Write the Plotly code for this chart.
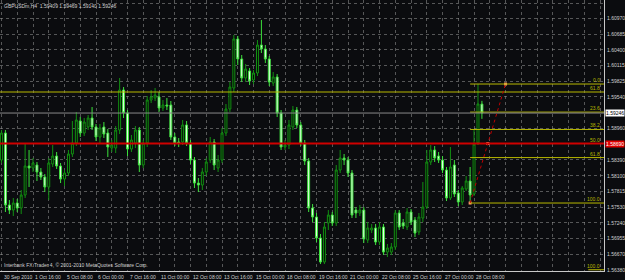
import plotly.graph_objects as go

# ---- data (GBPUSDm, H4) ----
opens = [1.58388, 1.58881, 1.57567, 1.57475, 1.57603, 1.57512, 1.57749, 1.58279, 1.58242, 1.58297,
         1.58169, 1.58078, 1.57895, 1.58315, 1.58461, 1.58279, 1.58041, 1.58151, 1.58498, 1.58699,
         1.59101, 1.58881, 1.58991, 1.59155, 1.58991, 1.58808, 1.58991, 1.58881, 1.58608, 1.58608,
         1.58936, 1.59667, 1.59247, 1.58589, 1.58699, 1.58936, 1.58297, 1.58699, 1.59484, 1.59521,
         1.59539, 1.59338, 1.59393, 1.59393, 1.58808, 1.58717, 1.58717, 1.59028, 1.58699, 1.58388,
         1.57968, 1.57932, 1.58169, 1.58388, 1.58717, 1.58242, 1.58388, 1.58881, 1.59320, 1.59703,
         1.60598, 1.60233, 1.59886, 1.60014, 1.59849, 1.59977, 1.60488, 1.60415, 1.60233, 1.59794,
         1.59904, 1.59247, 1.58626, 1.58662, 1.58991, 1.59301, 1.59028, 1.58699, 1.58370, 1.57512,
         1.57348, 1.56964, 1.56526, 1.57238, 1.57384, 1.57238, 1.58206, 1.58425, 1.58388, 1.58151,
         1.57475, 1.57421, 1.57475, 1.56928, 1.57110, 1.57147, 1.56891, 1.57165, 1.56708, 1.56708,
         1.56800, 1.57421, 1.57238, 1.57165, 1.57439, 1.57293, 1.57074, 1.57329, 1.57530, 1.58352,
         1.58571, 1.58461, 1.58388, 1.58206, 1.57695, 1.58297, 1.57786, 1.57622, 1.57859, 1.58005,
         1.57768, 1.58699, 1.59409]
highs = [1.58936, 1.58936, 1.57658, 1.57695, 1.57676, 1.57841, 1.58699, 1.58571, 1.58425, 1.58352,
         1.58242, 1.58133, 1.58425, 1.58662, 1.58535, 1.58334, 1.58206, 1.58571, 1.59101, 1.59265,
         1.59174, 1.59155, 1.59210, 1.59356, 1.59046, 1.59046, 1.59082, 1.58955, 1.58754, 1.59009,
         1.59886, 1.59721, 1.59301, 1.58845, 1.59009, 1.58991, 1.58754, 1.59557, 1.59667, 1.59703,
         1.59630, 1.59484, 1.59521, 1.59466, 1.58881, 1.58790, 1.59119, 1.59101, 1.58754, 1.58443,
         1.58060, 1.58242, 1.58425, 1.58808, 1.58772, 1.58480, 1.58973, 1.59411, 1.59813, 1.60671,
         1.60653, 1.60306, 1.60141, 1.60068, 1.60032, 1.60580, 1.60945, 1.60488, 1.60287, 1.59995,
         1.59959, 1.59301, 1.58754, 1.59119, 1.59374, 1.59356, 1.59082, 1.58754, 1.58425, 1.57585,
         1.57421, 1.57037, 1.57256, 1.57475, 1.57439, 1.58297, 1.58571, 1.58498, 1.58443, 1.58206,
         1.57530, 1.57567, 1.57530, 1.57256, 1.57220, 1.57220, 1.57256, 1.57220, 1.56855, 1.56873,
         1.57475, 1.57475, 1.57311, 1.57512, 1.57494, 1.57348, 1.57421, 1.57987, 1.58571, 1.58662,
         1.58644, 1.58535, 1.58461, 1.58261, 1.58626, 1.58388, 1.57841, 1.57914, 1.58096, 1.58261,
         1.58936, 1.59776, 1.59469]
lows = [1.58334, 1.57439, 1.57402, 1.57366, 1.57439, 1.57402, 1.57695, 1.57895, 1.58169, 1.58005,
        1.58023, 1.57804, 1.57658, 1.58261, 1.58224, 1.57968, 1.57914, 1.58096, 1.58443, 1.58644,
        1.58808, 1.58827, 1.58936, 1.58936, 1.58735, 1.58699, 1.58790, 1.58443, 1.58535, 1.58516,
        1.58863, 1.59155, 1.58461, 1.58535, 1.58608, 1.58169, 1.58242, 1.58626, 1.59429, 1.59466,
        1.59265, 1.59283, 1.59301, 1.58754, 1.58644, 1.58626, 1.58662, 1.58644, 1.58315, 1.57877,
        1.57804, 1.57841, 1.58096, 1.58334, 1.58206, 1.58169, 1.58334, 1.58827, 1.59265, 1.59630,
        1.60123, 1.59813, 1.59813, 1.59758, 1.59776, 1.59922, 1.60342, 1.60160, 1.59740, 1.59740,
        1.59174, 1.58571, 1.58571, 1.58589, 1.58936, 1.58973, 1.58644, 1.58297, 1.57439, 1.57256,
        1.56891, 1.56489, 1.56489, 1.57110, 1.57183, 1.57183, 1.58151, 1.58297, 1.58078, 1.57329,
        1.57329, 1.57366, 1.56873, 1.56873, 1.57055, 1.56836, 1.56836, 1.56654, 1.56617, 1.56654,
        1.56745, 1.57110, 1.57129, 1.57110, 1.57202, 1.56982, 1.57019, 1.57256, 1.57494, 1.58297,
        1.58352, 1.58334, 1.58151, 1.57640, 1.57658, 1.57713, 1.57548, 1.57567, 1.57822, 1.57603,
        1.57731, 1.58662, 1.59140]
closes = [1.58881, 1.57567, 1.57475, 1.57603, 1.57512, 1.57749, 1.58279, 1.58242, 1.58334, 1.58169,
          1.58078, 1.57895, 1.58334, 1.58461, 1.58279, 1.58041, 1.58151, 1.58498, 1.58699, 1.59119,
          1.58881, 1.59082, 1.59155, 1.58991, 1.58808, 1.58973, 1.58863, 1.58626, 1.58662, 1.58936,
          1.59667, 1.59247, 1.58589, 1.58754, 1.58936, 1.58297, 1.58699, 1.59484, 1.59539, 1.59575,
          1.59338, 1.59393, 1.59374, 1.58808, 1.58699, 1.58699, 1.59028, 1.58699, 1.58388, 1.57968,
          1.57932, 1.58169, 1.58352, 1.58717, 1.58297, 1.58388, 1.58881, 1.59320, 1.59721, 1.60598,
          1.60233, 1.59886, 1.60050, 1.59831, 1.59977, 1.60488, 1.60415, 1.60233, 1.59813, 1.59904,
          1.59247, 1.58626, 1.58662, 1.59028, 1.59301, 1.59028, 1.58699, 1.58370, 1.57512, 1.57348,
          1.56964, 1.56526, 1.57165, 1.57384, 1.57238, 1.58206, 1.58425, 1.58388, 1.58151, 1.57384,
          1.57421, 1.57475, 1.56946, 1.57147, 1.57147, 1.56891, 1.57165, 1.56708, 1.56782, 1.56800,
          1.57421, 1.57165, 1.57183, 1.57439, 1.57256, 1.57055, 1.57348, 1.57530, 1.58352, 1.58571,
          1.58425, 1.58388, 1.58206, 1.57695, 1.58261, 1.57768, 1.57622, 1.57877, 1.58005, 1.57749,
          1.58681, 1.59411, 1.59246]
bars = list(range(len(opens)))

time_labels = ["30 Sep 2010", "1 Oct 16:00", "5 Oct 08:00", "6 Oct 00:00", "7 Oct 16:00",
               "11 Oct 00:00", "12 Oct 08:00", "13 Oct 16:00", "15 Oct 00:00", "18 Oct 08:00",
               "19 Oct 16:00", "21 Oct 00:00", "22 Oct 08:00", "25 Oct 16:00", "27 Oct 00:00",
               "28 Oct 08:00"]
label_step = 8
grid_step = 4

price_ticks = [1.61255, 1.60970, 1.60685, 1.60400, 1.60115, 1.59825, 1.59540, 1.58960,
               1.58390, 1.58100, 1.57815, 1.57530, 1.57240, 1.56955, 1.56670, 1.56380]

title_text = "GBPUSDm,H4  1.59409 1.59469 1.59140 1.59246"
copyright_text = "Interbank FX Trader 4, \u00a9 2001-2010 MetaQuotes Software Corp."

bid_price = 1.59246
red_level = 1.58690
yellow_level = 1.59630
yellow_level_label = "61.8"
fib_high = 1.59776
fib_low = 1.57603
fib_start_bar = 119
trend_end_bar = 128
fib_levels = [0.0, 23.6, 38.2, 50.0, 61.8, 100.0]
bottom_level = 1.56385
bottom_level_label = "100.0"

# ---- styling ----
BG = "#0b0c0f"
GRID = "rgba(150,150,150,0.55)"
TXT = "#d0d0d0"
FIB = "#b8b800"
FONT = "Liberation Sans"
FS = 5

X_MIN, X_MAX = -0.38, 153.0
Y_MIN, Y_MAX = 1.56362, 1.61310

fig = go.Figure()

fig.add_trace(go.Candlestick(
    x=bars, open=opens, high=highs, low=lows, close=closes,
    increasing=dict(line=dict(color="#129012", width=1), fillcolor="#050805"),
    decreasing=dict(line=dict(color="#3be03b", width=1), fillcolor="#f2fff2"),
    whiskerwidth=0, hoverinfo="skip", showlegend=False,
))

# fib range levels
fib_prices = [fib_high - (fib_high - fib_low) * lv / 100.0 for lv in fib_levels]
shapes = []
for pr in fib_prices:
    shapes.append(dict(type="line", xref="x", yref="y", x0=fib_start_bar, x1=X_MAX,
                       y0=pr, y1=pr, line=dict(color=FIB, width=1), layer="above"))
# full-width lines
shapes.append(dict(type="line", xref="paper", yref="y", x0=0, x1=1, y0=yellow_level, y1=yellow_level,
                   line=dict(color=FIB, width=1), layer="above"))
shapes.append(dict(type="line", xref="paper", yref="y", x0=0, x1=1, y0=bid_price, y1=bid_price,
                   line=dict(color="#8a8a8a", width=1), layer="above"))
shapes.append(dict(type="line", xref="paper", yref="y", x0=0, x1=1, y0=red_level, y1=red_level,
                   line=dict(color="#d00000", width=2), layer="above"))
shapes.append(dict(type="line", xref="x", yref="y", x0=149, x1=X_MAX, y0=bottom_level, y1=bottom_level,
                   line=dict(color=FIB, width=1), layer="above"))
# fib trend line
shapes.append(dict(type="line", xref="x", yref="y", x0=fib_start_bar, x1=trend_end_bar,
                   y0=fib_low, y1=fib_high, line=dict(color="#c00000", width=1, dash="dot"),
                   layer="above"))

fig.add_trace(go.Scatter(
    x=[fib_start_bar, (fib_start_bar + trend_end_bar) / 2, trend_end_bar],
    y=[fib_low, (fib_low + fib_high) / 2, fib_high],
    mode="markers", marker=dict(symbol="square", size=3, color="#ff9a6a"),
    hoverinfo="skip", showlegend=False,
))

annotations = []
for lv, pr in zip(fib_levels, fib_prices):
    annotations.append(dict(xref="paper", yref="y", x=1, y=pr, xanchor="right", yanchor="bottom",
                            xshift=-2, yshift=-1, text="%.1f" % lv, showarrow=False,
                            font=dict(family=FONT, size=FS, color=FIB)))
annotations.append(dict(xref="paper", yref="y", x=1, y=yellow_level, xanchor="right", yanchor="bottom",
                        xshift=-2, yshift=-1, text=yellow_level_label, showarrow=False,
                        font=dict(family=FONT, size=FS, color=FIB)))
annotations.append(dict(xref="paper", yref="y", x=1, y=bottom_level, xanchor="right", yanchor="bottom",
                        xshift=-2, yshift=-1, text=bottom_level_label, showarrow=False,
                        font=dict(family=FONT, size=FS, color=FIB)))
# price boxes on the axis
annotations.append(dict(xref="paper", yref="y", x=1, y=bid_price, xanchor="left", yanchor="middle",
                        xshift=1, text="%.5f" % bid_price, showarrow=False, bgcolor="#ffffff",
                        borderpad=0, font=dict(family=FONT, size=FS, color="#000000")))
annotations.append(dict(xref="paper", yref="y", x=1, y=red_level, xanchor="left", yanchor="middle",
                        xshift=1, text="%.5f" % red_level, showarrow=False, bgcolor="#e00000",
                        borderpad=0, font=dict(family=FONT, size=FS, color="#ffffff")))
# time labels
for i, lab in enumerate(time_labels):
    annotations.append(dict(xref="x", yref="paper", x=i * label_step, y=0, xanchor="left",
                            yanchor="top", yshift=-1, text=lab, showarrow=False,
                            font=dict(family=FONT, size=FS, color=TXT)))
annotations.append(dict(xref="paper", yref="paper", x=0, y=1, xanchor="left", yanchor="top",
                        xshift=2, yshift=-1, text=title_text, showarrow=False,
                        font=dict(family=FONT, size=FS, color=TXT)))
annotations.append(dict(xref="paper", yref="paper", x=0, y=0, xanchor="left", yanchor="bottom",
                        xshift=2, yshift=1, text=copyright_text, showarrow=False,
                        font=dict(family=FONT, size=FS, color=TXT)))

fig.update_layout(
    width=625, height=280,
    margin=dict(l=0, r=21, t=0, b=9, pad=0),
    paper_bgcolor=BG, plot_bgcolor=BG,
    shapes=shapes, annotations=annotations,
    showlegend=False, hovermode=False,
    xaxis=dict(range=[X_MIN, X_MAX], rangeslider=dict(visible=False), showticklabels=False,
               tickmode="array", tickvals=list(range(0, 156, grid_step)),
               showgrid=True, gridcolor=GRID, griddash="dot", gridwidth=1,
               zeroline=False, showline=True, linecolor="#c8c8c8", linewidth=1, ticks=""),
    yaxis=dict(range=[Y_MIN, Y_MAX], side="right", tickmode="array", tickvals=price_ticks,
               ticktext=["%.5f" % v for v in price_ticks],
               showgrid=True, gridcolor=GRID, griddash="dot", gridwidth=1,
               zeroline=False, showline=True, linecolor="#c8c8c8", linewidth=1,
               ticks="", ticklabelstandoff=1,
               tickfont=dict(family=FONT, size=FS, color=TXT), automargin=False),
)

fig.write_html("out.html")
